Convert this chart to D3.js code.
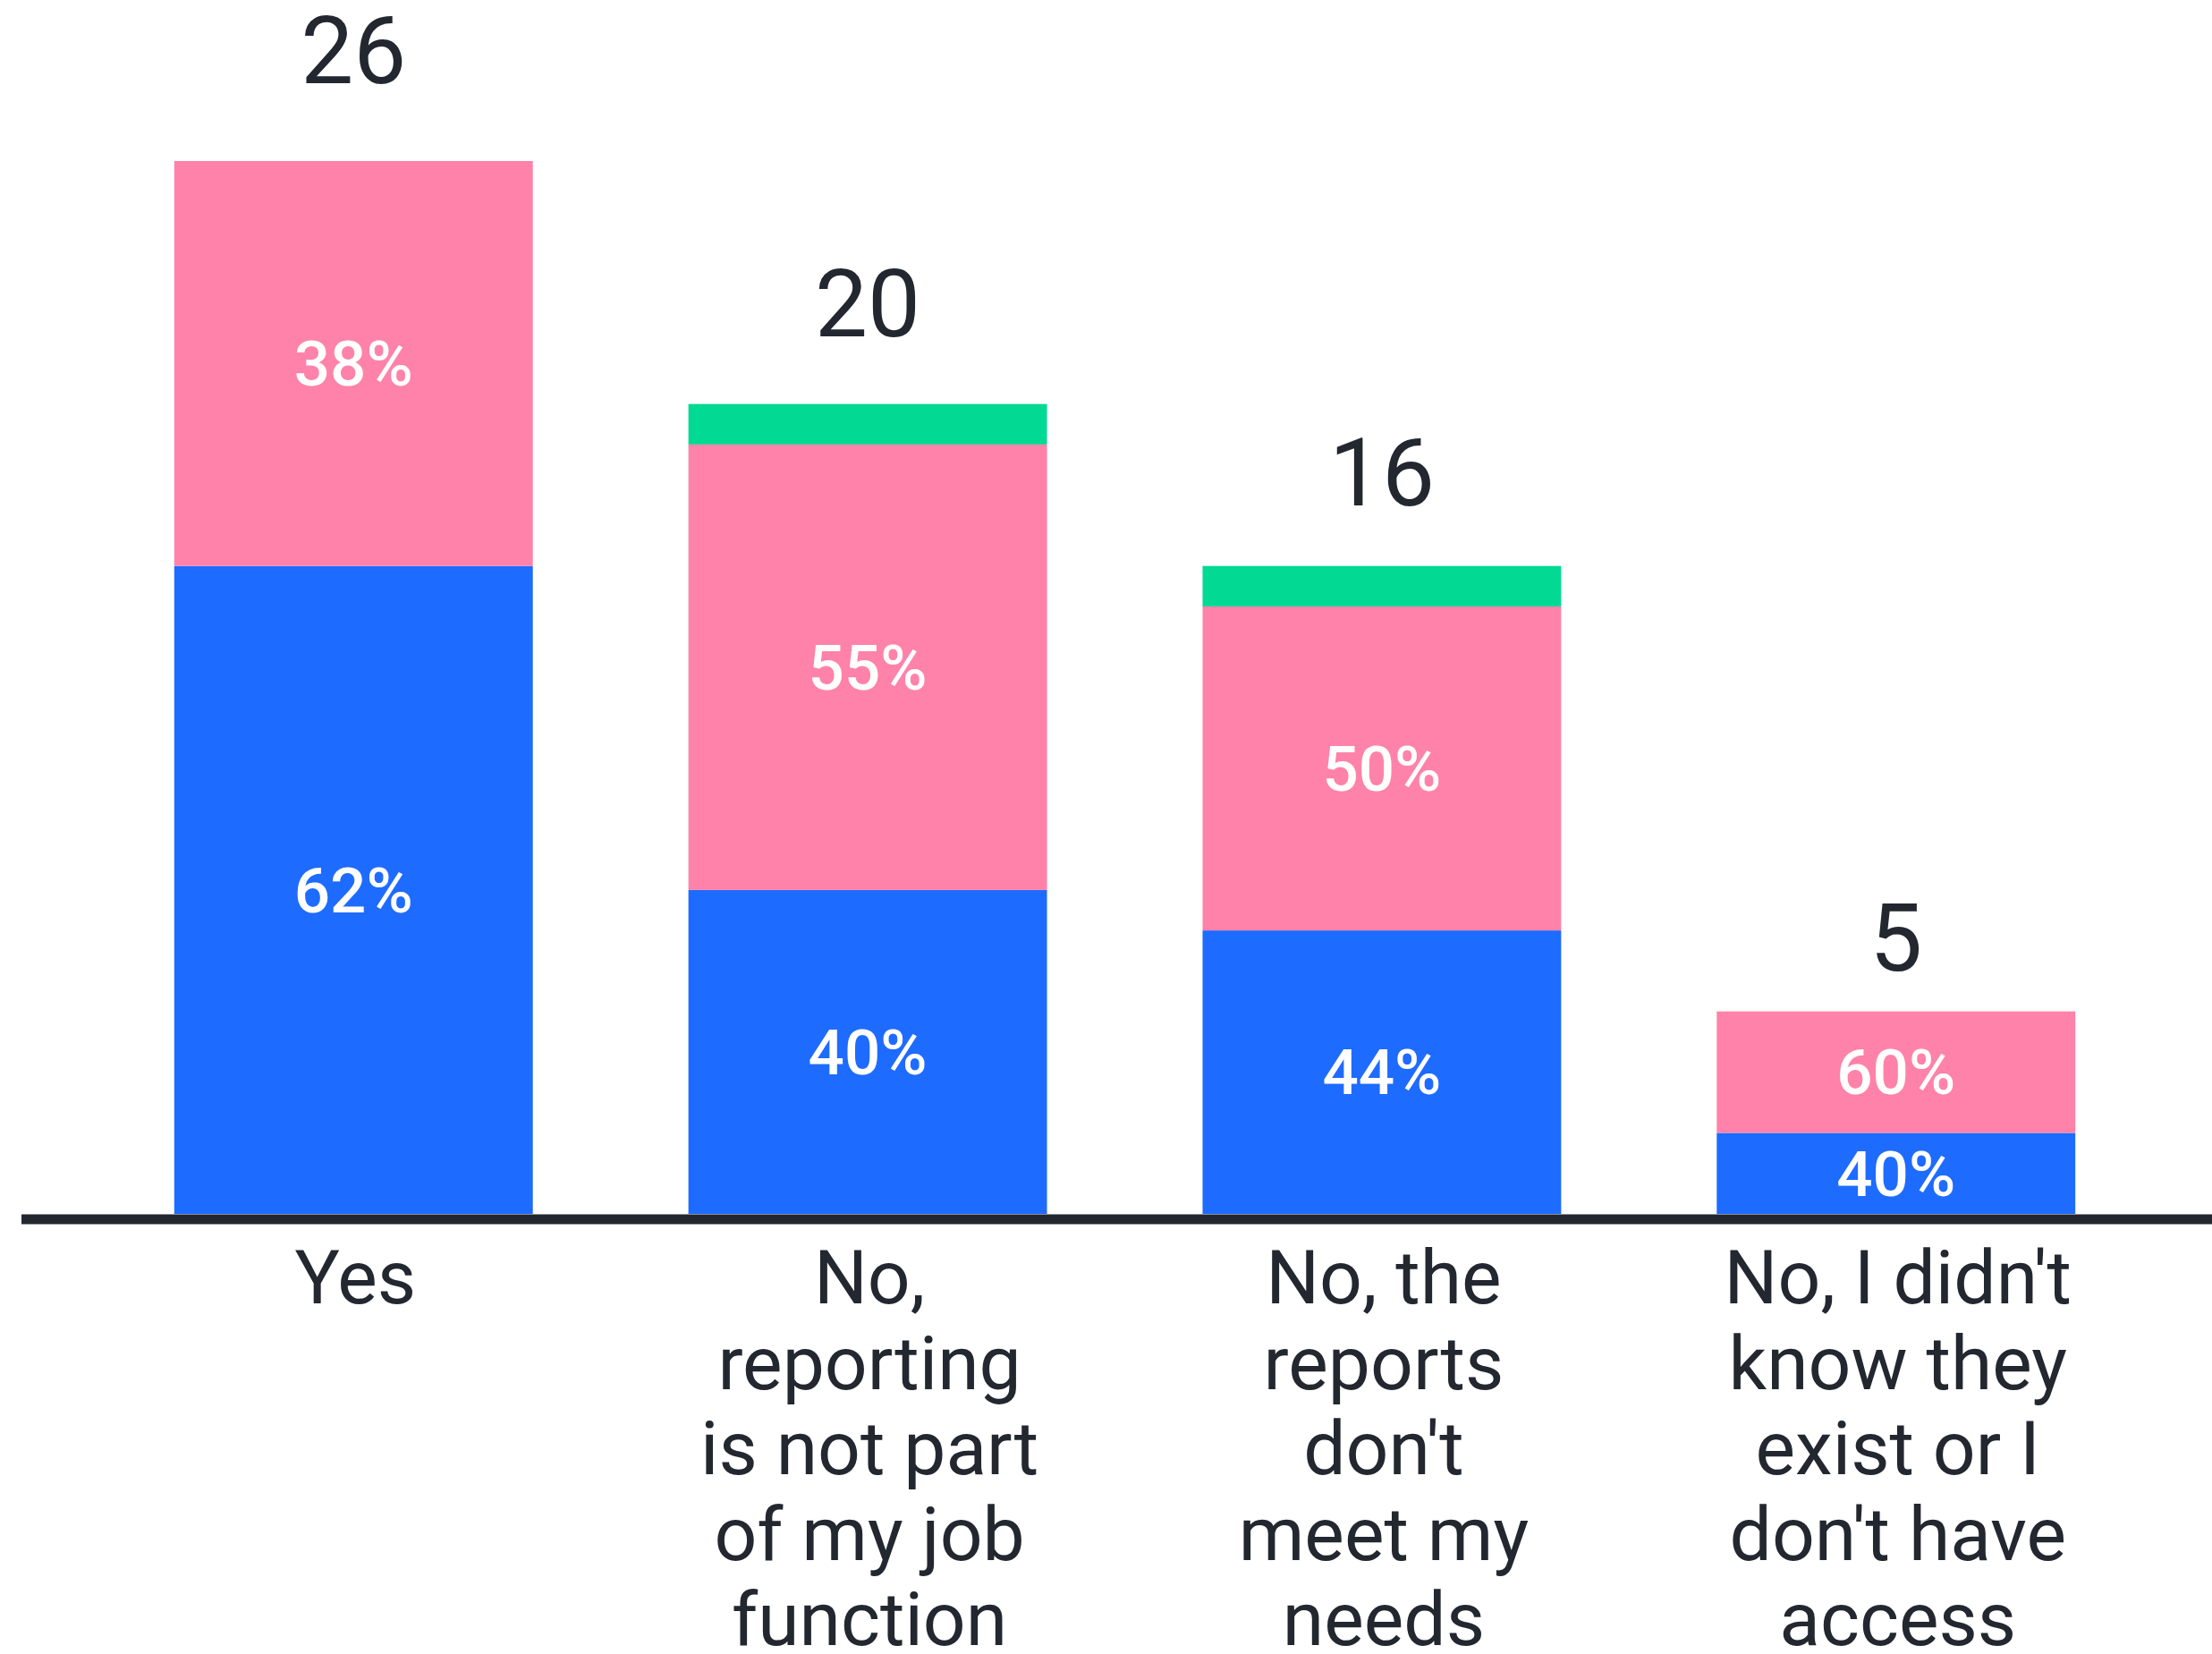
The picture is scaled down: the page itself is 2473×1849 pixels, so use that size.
<!DOCTYPE html>
<html>
<head>
<meta charset="utf-8">
<script src="https://cdn.jsdelivr.net/npm/d3@7"></script>
<style>
  html, body { margin: 0; padding: 0; background: #fff; }
  svg { display: block; }
</style>
</head>
<body>
<svg id="chart"></svg>
<script>
(() => {
  'use strict';

  // respondent counts per answer, split by group
  const categories = ["Yes", "No, reporting is not part of my job function", "No, the reports don't meet my needs", "No, I didn't know they exist or I don't have access"];
  const labelLines = [
    ["Yes"],
    ["No,", "reporting", "is not part", "of my job", "function"],
    ["No, the", "reports", "don't", "meet my", "needs"],
    ["No, I didn't", "know they", "exist or I", "don't have", "access"]
  ];
  const blueValues  = [16, 8, 7, 2];
  const pinkValues  = [10, 11, 8, 3];
  const greenValues = [0, 1, 1, 0];
  const seriesKeys = ["blue", "pink", "green"];
  const colors = { blue: "#1e6bff", pink: "#ff82aa", green: "#02d992" };
  const showPct = { blue: true, pink: true, green: false };

  const width = 2473, height = 1849;
  const base = 1357;

  const rows = categories.map((c, i) => ({
    cat: c,
    blue: blueValues[i],
    pink: pinkValues[i],
    green: greenValues[i],
    total: blueValues[i] + pinkValues[i] + greenValues[i]
  }));

  const svg = d3.select("#chart").attr("width", width).attr("height", height);

  const x = d3.scaleBand()
    .domain(categories)
    .range([108, 2407])
    .paddingInner(0.3026)
    .paddingOuter(0.151);

  const maxTotal = d3.max(rows, d => d.total);
  const y = d3.scaleLinear().domain([0, maxTotal]).range([base, 180]);
  // the total labels sit on a slightly steeper scale than the bars
  const yLabel = d3.scaleLinear().domain([0, maxTotal]).range([1321, 93]);

  const stacked = d3.stack().keys(seriesKeys)(rows);

  const layers = svg.append("g").selectAll("g")
    .data(stacked)
    .join("g")
      .attr("fill", d => colors[d.key]);

  layers.selectAll("rect")
    .data(d => d.map(s => Object.assign(s, { key: d.key })))
    .join("rect")
      .attr("x", d => x(d.data.cat))
      .attr("width", x.bandwidth())
      .attr("y", d => y(d[1]))
      .attr("height", d => y(d[0]) - y(d[1]));

  // percentage labels inside segments
  layers.selectAll("text")
    .data(d => d.filter(s => showPct[d.key] && s[1] - s[0] > 0))
    .join("text")
      .attr("x", d => x(d.data.cat) + x.bandwidth() / 2)
      .attr("y", d => (y(d[0]) + y(d[1])) / 2)
      .attr("dy", "0.35em")
      .attr("text-anchor", "middle")
      .attr("fill", "#fff")
      .style("font-family", "Roboto, 'Noto Sans', sans-serif")
      .style("font-weight", 500)
      .style("font-size", "71px")
      .text(d => Math.round((d[1] - d[0]) / d.data.total * 100) + "%");

  // totals above bars
  svg.append("g").selectAll("text")
    .data(rows)
    .join("text")
      .attr("x", d => x(d.cat) + x.bandwidth() / 2)
      .attr("y", d => yLabel(d.total))
      .attr("text-anchor", "middle")
      .attr("fill", "#23272f")
      .style("font-family", "Roboto, 'Noto Sans', sans-serif")
      .style("font-size", "105px")
      .text(d => d.total);

  // baseline
  svg.append("line")
    .attr("x1", 24).attr("x2", width)
    .attr("y1", base + 6).attr("y2", base + 6)
    .attr("stroke", "#23272f")
    .attr("stroke-width", 11);

  // category labels
  const cl = svg.append("g").selectAll("text")
    .data(categories)
    .join("text")
      .attr("text-anchor", "middle")
      .attr("fill", "#23272f")
      .style("font-family", "Roboto, 'Noto Sans', sans-serif")
      .style("font-size", "84px");

  cl.selectAll("tspan")
    .data((d, i) => labelLines[i].map(t => ({ t, cat: d })))
    .join("tspan")
      .attr("x", d => x(d.cat) + x.bandwidth() / 2 + 2)
      .attr("y", (d, j) => 1457 + j * 95.5)
      .text(d => d.t);
})();
</script>
</body>
</html>
